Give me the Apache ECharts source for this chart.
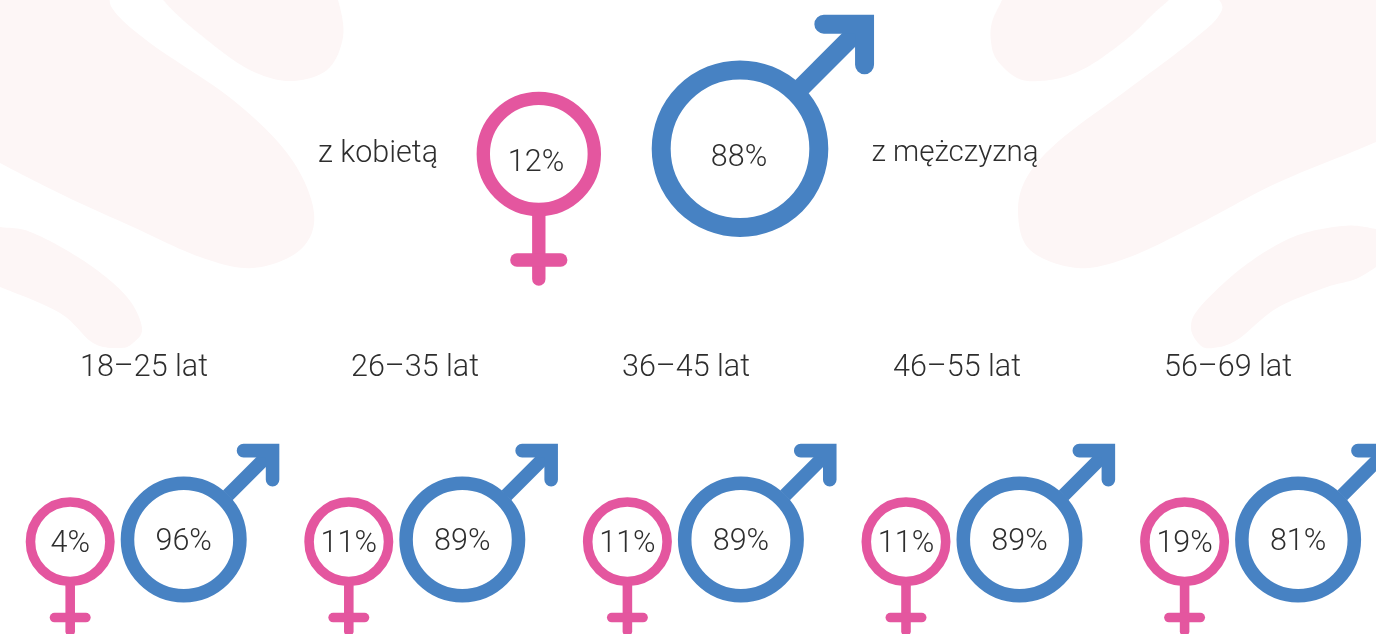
<!DOCTYPE html>
<html>
<head>
<meta charset="utf-8">
<style>
  html, body { margin: 0; padding: 0; background: #fff; }
  #chart { width: 1376px; height: 634px; }
</style>
<script src="https://cdn.jsdelivr.net/npm/echarts@6/dist/echarts.min.js"></script>
</head>
<body>
<div id="chart"></div>
<script>
// dane
const totalLabels = ['z kobietą', 'z mężczyzną'];
const totalValues = [12, 88];
const ageGroups = ['18–25 lat', '26–35 lat', '36–45 lat', '46–55 lat', '56–69 lat'];
const femaleShare = [4, 11, 11, 11, 19];
const maleShare = [96, 89, 89, 89, 81];

const PINK = '#e4569f';
const BLUE = '#4782c3';
const BLOB = '#fdf6f6';
const TEXT = '#2e2e2e';
const FONT = 'Roboto';
const FONT_SIZE = 30.5;

// tlo - plamy dekoracyjne
const blobs = [
  [[60, -60], [108, -20], [112, 8], [150, 43], [233, 100], [290, 157], [314, 213], [300, 250], [253, 268], [200, 257], [133, 227], [67, 197], [0, 163], [-60, 130], [-100, 0]],
  [[150, -30], [165, 2], [207, 40], [250, 70], [290, 81], [327, 70], [343, 37], [338, 0], [325, -30]],
  [[-60, 222], [0, 227], [33, 233], [87, 263], [127, 297], [142, 328], [133, 343], [120, 348], [93, 343], [60, 313], [0, 287], [-60, 265]],
  [[1015, -30], [1002, 0], [992, 22], [991, 42], [997, 60], [1017, 78], [1040, 81], [1070, 75], [1103, 57], [1147, 20], [1180, -30]],
  [[1225, -30], [1222, 10], [1193, 40], [1127, 90], [1060, 140], [1027, 177], [1018, 213], [1030, 250], [1077, 268], [1127, 258], [1193, 227], [1277, 183], [1376, 142], [1440, 110], [1480, 0], [1440, -60]],
  [[1420, 240], [1376, 229], [1343, 226], [1293, 237], [1243, 267], [1200, 307], [1191, 328], [1200, 345], [1213, 348], [1237, 340], [1277, 308], [1327, 287], [1360, 277], [1400, 250]]
];

// zamkniety spline przez punkty plamy
function blobOutline(pts) {
  const out = [];
  const n = pts.length;
  for (let i = 0; i < n; i++) {
    const p0 = pts[(i - 1 + n) % n];
    const p1 = pts[i];
    const p2 = pts[(i + 1) % n];
    const p3 = pts[(i + 2) % n];
    for (let s = 0; s < 12; s++) {
      const t = s / 12;
      const t2 = t * t;
      const t3 = t2 * t;
      out.push([0, 1].map(k => 0.5 * (2 * p1[k] + (p2[k] - p0[k]) * t +
        (2 * p0[k] - 5 * p1[k] + 4 * p2[k] - p3[k]) * t2 +
        (3 * p1[k] - p0[k] - 3 * p2[k] + p3[k]) * t3)));
    }
  }
  return out;
}

// symbol kobiety / mezczyzny, wymiary liczone od promienia kola
function symbolItem(kind, cfg) {
  return function (params, api) {
    const c = api.coord([api.value(0), api.value(1)]);
    const cx = c[0] + cfg.dx;
    const cy = c[1] + cfg.dy;
    const R = cfg.r;
    const sw = R * 0.215;
    const color = kind === 'f' ? PINK : BLUE;
    const lineStyle = { stroke: color, lineWidth: sw, fill: null, lineCap: 'round', lineJoin: 'miter' };
    const children = [{
      type: 'circle',
      shape: { cx: cx, cy: cy, r: R - sw / 2 },
      style: { stroke: color, lineWidth: sw, fill: null }
    }];
    if (kind === 'f') {
      children.push({
        type: 'line',
        shape: { x1: cx, y1: cy + R, x2: cx, y2: cy + R * 2.12 - sw / 2 },
        style: lineStyle
      }, {
        type: 'line',
        shape: { x1: cx - R * 0.46 + sw / 2, y1: cy + R * 1.705, x2: cx + R * 0.46 - sw / 2, y2: cy + R * 1.705 },
        style: lineStyle
      });
    } else {
      const tip = R * 1.518 - sw / 2;
      const arm = R * 0.676 - sw;
      children.push({
        type: 'line',
        shape: { x1: cx + R * 0.7, y1: cy - R * 0.7, x2: cx + tip, y2: cy - tip },
        style: { stroke: color, lineWidth: sw, fill: null }
      }, {
        type: 'polyline',
        shape: { points: [[cx + tip - arm, cy - tip], [cx + tip, cy - tip], [cx + tip, cy - tip + arm]] },
        style: lineStyle
      });
    }
    children.push({
      type: 'text',
      style: {
        x: cx + cfg.textDx,
        y: cy + cfg.textDy,
        text: api.value(2) + '%',
        align: 'center',
        verticalAlign: 'middle',
        fontFamily: FONT,
        fontWeight: 300,
        fontSize: FONT_SIZE,
        fill: TEXT
      }
    });
    return { type: 'group', children: children };
  };
}

function captionItem(align, offset, size) {
  return function (params, api) {
    const c = api.coord([api.value(0), api.value(1)]);
    return {
      type: 'text',
      style: {
        x: c[0] + offset,
        y: c[1] + 4,
        text: totalLabels[api.value(0)],
        align: align,
        verticalAlign: 'middle',
        fontFamily: FONT,
        fontWeight: 300,
        fontSize: size,
        fill: TEXT
      }
    };
  };
}

const topFemale = [[0, 0, totalValues[0]]];
const topMale = [[1, 0, totalValues[1]]];
const ageFemale = ageGroups.map((_, i) => [i, 0, femaleShare[i]]);
const ageMale = ageGroups.map((_, i) => [i, 0, maleShare[i]]);

const chart = echarts.init(document.getElementById('chart'));

chart.setOption({
  animation: false,
  backgroundColor: '#ffffff',
  graphic: blobs.map(points => ({
    type: 'polygon',
    z: -10,
    silent: true,
    shape: { points: blobOutline(points) },
    style: { fill: BLOB }
  })),
  grid: [
    { left: 438.2, width: 402.4, top: 140, height: 20 },
    { left: 8.5, width: 1355, top: 341, height: 10 },
    { left: -12.35, width: 1393, top: 530, height: 20, outerBoundsMode: 'none' }
  ],
  xAxis: [
    { gridIndex: 0, type: 'category', data: totalLabels, show: false },
    {
      gridIndex: 1,
      type: 'category',
      data: ageGroups,
      axisLine: { show: false },
      axisTick: { show: false },
      axisLabel: { margin: 2, interval: 0, fontFamily: FONT, fontWeight: 300, fontSize: FONT_SIZE, color: TEXT }
    },
    { gridIndex: 2, type: 'category', data: ageGroups, show: false }
  ],
  yAxis: [
    { gridIndex: 0, type: 'category', data: ['all'], show: false },
    { gridIndex: 1, type: 'value', show: false },
    { gridIndex: 2, type: 'category', data: ['all'], show: false }
  ],
  series: [
    { type: 'custom', xAxisIndex: 0, yAxisIndex: 0, data: topFemale, renderItem: symbolItem('f', { r: 62.2, dx: 0, dy: 3.9, textDx: -2.8, textDy: 9 }) },
    { type: 'custom', xAxisIndex: 0, yAxisIndex: 0, data: topMale, renderItem: symbolItem('m', { r: 88.3, dx: 0, dy: -1.3, textDx: -1, textDy: 10 }) },
    { type: 'custom', xAxisIndex: 0, yAxisIndex: 0, data: topFemale, renderItem: captionItem('right', -100.8, FONT_SIZE) },
    { type: 'custom', xAxisIndex: 0, yAxisIndex: 0, data: topMale, renderItem: captionItem('left', 131.5, 29.5) },
    { type: 'custom', xAxisIndex: 2, yAxisIndex: 2, data: ageFemale, renderItem: symbolItem('f', { r: 44.5, dx: -56.75, dy: 1.7, textDx: 0, textDy: 2.5 }) },
    { type: 'custom', xAxisIndex: 2, yAxisIndex: 2, data: ageMale, renderItem: symbolItem('m', { r: 63, dx: 56.75, dy: -0.5, textDx: 0, textDy: 2.5 }) }
  ]
});

window.addEventListener('resize', () => chart.resize());
</script>
</body>
</html>
